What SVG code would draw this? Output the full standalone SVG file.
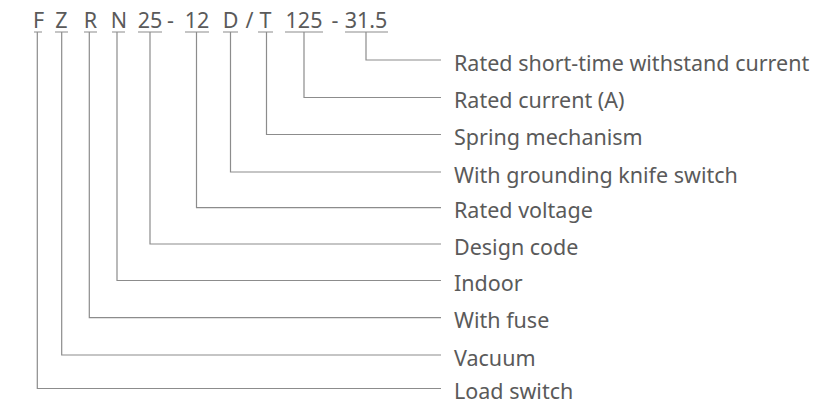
<svg xmlns="http://www.w3.org/2000/svg" width="820" height="405" viewBox="0 0 820 405">
<style>
.t{font-family:"Noto Sans","Open Sans","Liberation Sans",sans-serif;font-size:21.5px;fill:#5a5a5a}
.c{text-anchor:middle}
.l{fill:none;stroke:#8c8c8c;stroke-width:1.2}
</style>
<rect width="820" height="405" fill="#ffffff"/>
<g id="code">
<text class="t c" x="38.5" y="28">F</text>
<text class="t c" x="61.5" y="28">Z</text>
<text class="t c" x="90.5" y="28">R</text>
<text class="t c" x="119" y="28">N</text>
<text class="t c" x="150" y="28">25</text>
<text class="t c" x="170.5" y="28">-</text>
<text class="t c" x="197" y="28">12</text>
<text class="t c" x="230.5" y="28">D</text>
<text class="t c" x="249.5" y="28">/</text>
<text class="t c" x="265.5" y="28">T</text>
<text class="t c" x="304" y="28">125</text>
<text class="t c" x="335" y="28">-</text>
<text class="t c" x="366" y="28">31.5</text>
</g>
<g id="connectors">
<path class="l" d="M34 32H42 M55 32H68 M84 32H97 M112 32H125 M138 32H162 M185 32H209 M223 32H238 M258 32H273 M285 32H323 M345 32H388"/>
<path class="l" d="M366 32V60H441"/>
<path class="l" d="M304 32V97.5H441"/>
<path class="l" d="M266.5 32V134.5H441"/>
<path class="l" d="M230.5 32V172H441"/>
<path class="l" d="M196.5 32V207.7H441"/>
<path class="l" d="M150 32V244H441"/>
<path class="l" d="M117 32V280.5H441"/>
<path class="l" d="M89.3 32V317.7H441"/>
<path class="l" d="M61.7 32V355H441"/>
<path class="l" d="M37.3 32V388.5H441"/>
</g>
<g id="n31_5"><text class="t" x="454" y="70.5">Rated short-time withstand current</text></g>
<g id="n125"><text class="t" x="454" y="108">Rated current (A)</text></g>
<g id="nT"><text class="t" x="454" y="145">Spring mechanism</text></g>
<g id="nD"><text class="t" x="454" y="182.5">With grounding knife switch</text></g>
<g id="n12"><text class="t" x="454" y="218.2">Rated voltage</text></g>
<g id="n25"><text class="t" x="454" y="254.5">Design code</text></g>
<g id="nN"><text class="t" x="454" y="291">Indoor</text></g>
<g id="nR"><text class="t" x="454" y="328.2">With fuse</text></g>
<g id="nZ"><text class="t" x="454" y="365.5">Vacuum</text></g>
<g id="nF"><text class="t" x="454" y="399">Load switch</text></g>
</svg>
